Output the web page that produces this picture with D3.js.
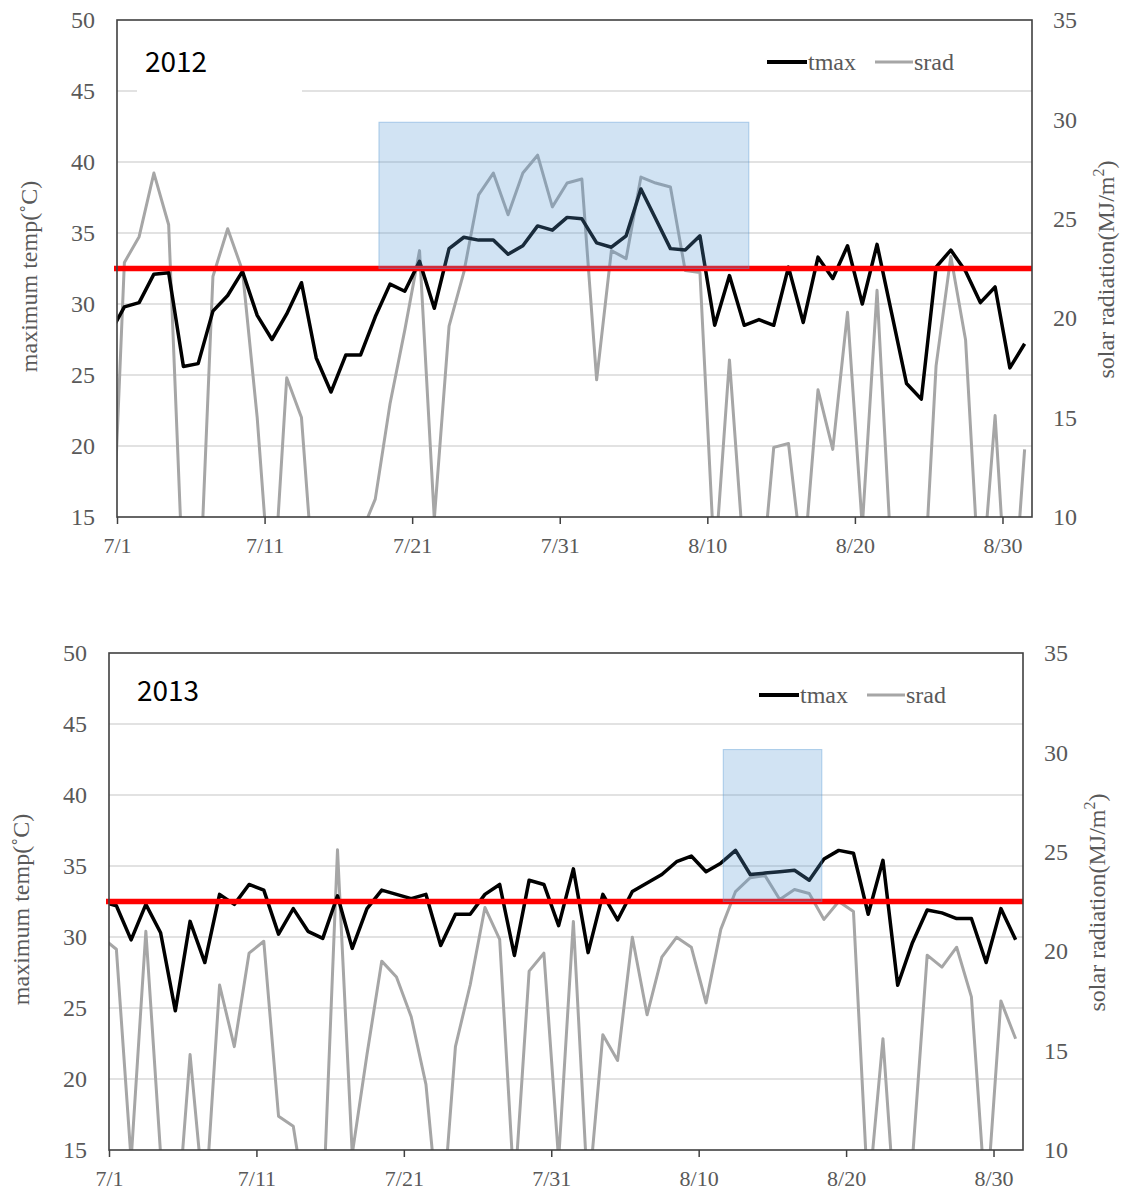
<!DOCTYPE html>
<html>
<head>
<meta charset="utf-8">
<script src="https://cdn.jsdelivr.net/npm/d3@7"></script>
<style>
  body { margin: 0; background: #fff; }
  svg { display: block; }
</style>
</head>
<body>
<svg id="chart" width="1125" height="1192"></svg>
<script>
const X_TICK_LABELS = ['7/1', '7/11', '7/21', '7/31', '8/10', '8/20', '8/30'];
const TEMP_TICKS = [15, 20, 25, 30, 35, 40, 45, 50];
const SRAD_TICKS = [10, 15, 20, 25, 30, 35];
const THRESHOLD = 32.5;
const SERIES_NAMES = ['tmax', 'srad'];

// daily values, 6/30 .. 8/31
const TMAX_2012 = [
  27.9,
  29.8, 30.1, 32.1, 32.2, 25.6, 25.8, 29.5, 30.6, 32.3, 29.2,
  27.5, 29.3, 31.5, 26.2, 23.8, 26.4, 26.4, 29.1, 31.4, 30.9,
  33.0, 29.7, 33.9, 34.7, 34.5, 34.5, 33.5, 34.1, 35.5, 35.2,
  36.1, 36.0, 34.3, 34.0, 34.8, 38.1, 36.0, 33.9, 33.8, 34.8,
  28.5, 32.0, 28.5, 28.9, 28.5, 32.6, 28.7, 33.3, 31.8, 34.1,
  30.0, 34.2, 29.3, 24.4, 23.3, 32.6, 33.8, 32.3, 30.1, 31.2,
  25.5, 27.2,
];
const SRAD_2012 = [
  5.0,
  22.8, 24.1, 27.3, 24.7, 6.2, 4.3, 22.1, 24.5, 22.4, 15.0,
  5.0, 17.0, 15.0, 5.0, 3.0, 3.0, 9.1, 10.9, 15.7, 19.4,
  23.4, 9.9, 19.6, 22.3, 26.2, 27.3, 25.2, 27.3, 28.2, 25.6,
  26.8, 27.0, 16.9, 23.4, 23.0, 27.1, 26.8, 26.6, 22.4, 22.3,
  7.5, 17.9, 7.7, 5.3, 13.5, 13.7, 7.3, 16.4, 13.4, 20.3,
  9.5, 21.4, 7.5, 4.0, 4.0, 17.6, 23.1, 18.9, 5.7, 15.1,
  3.0, 13.4,
];
const TMAX_2013 = [
  32.5,
  32.2, 29.8, 32.3, 30.3, 24.8, 31.1, 28.2, 33.0, 32.3, 33.7,
  33.3, 30.2, 32.0, 30.4, 29.9, 32.9, 29.2, 32.0, 33.3, 33.0,
  32.7, 33.0, 29.4, 31.6, 31.6, 33.0, 33.7, 28.7, 34.0, 33.7,
  30.8, 34.8, 28.9, 33.0, 31.2, 33.2, 33.8, 34.4, 35.3, 35.7,
  34.6, 35.2, 36.1, 34.4, 34.5, 34.6, 34.7, 34.0, 35.5, 36.1,
  35.9, 31.6, 35.4, 26.6, 29.6, 31.9, 31.7, 31.3, 31.3, 28.2,
  32.0, 29.8,
];
const SRAD_2013 = [
  20.7,
  20.1, 9.5, 21.0, 9.8, 5.2, 14.8, 6.9, 18.3, 15.2, 19.9,
  20.5, 11.7, 11.2, 6.5, 6.7, 25.1, 9.8, 14.8, 19.5, 18.7,
  16.7, 13.3, 5.5, 15.2, 18.3, 22.2, 20.6, 7.8, 19.0, 19.9,
  9.5, 21.5, 7.5, 15.8, 14.5, 20.7, 16.8, 19.7, 20.7, 20.2,
  17.4, 21.1, 23.0, 23.7, 23.8, 22.6, 23.1, 22.9, 21.6, 22.5,
  22.0, 7.5, 15.6, 5.0, 9.5, 19.8, 19.2, 20.2, 17.7, 7.0,
  17.5, 15.6,
];

// shaded hot spell boxes
const HOT_START = ['2012-07-18T18:00Z', '2013-08-11T16:00Z'];
const HOT_END = ['2012-08-12T19:30Z', '2013-08-18T08:30Z'];
const HOT_TOP = [42.8, 43.2];

const PANELS = [
  { year: 2012, tmax: TMAX_2012, srad: SRAD_2012, left: 117, right: 1032, top: 20, bottom: 517, mask: true, labelDy: 40 },
  { year: 2013, tmax: TMAX_2013, srad: SRAD_2013, left: 109, right: 1023, top: 653, bottom: 1150, mask: false, labelDy: 36 },
];

const FONT_SERIF = '"Liberation Serif", "Times New Roman", serif';
const FONT_SANS = '"Noto Sans CJK KR", "Noto Sans", sans-serif';
const TEXT_GREY = '#595959';

const svg = d3.select('#chart');

function seriesData(year, values) {
  const days = d3.utcDay.range(new Date(Date.UTC(year, 5, 30)), new Date(Date.UTC(year, 8, 1)));
  return days.map((day, i) => ({ date: d3.utcHour.offset(day, 12), value: values[i] }));
}

function drawGrid(g, yT, p) {
  g.append('g')
    .selectAll('line')
    .data(TEMP_TICKS.filter((t) => t > 15 && t < 50))
    .join('line')
    .attr('x1', p.left)
    .attr('x2', p.right)
    .attr('y1', (d) => yT(d))
    .attr('y2', (d) => yT(d))
    .attr('stroke', '#d9d9d9')
    .attr('stroke-width', 1.5);
}

function drawAxes(g, x, yT, yS, p) {
  const parseTick = d3.utcParse('%Y/%m/%d');
  const tickDates = X_TICK_LABELS.map((label) => parseTick(`${p.year}/${label}`));

  const xAxis = g.append('g')
    .attr('transform', `translate(0,${p.bottom})`)
    .call(d3.axisBottom(x)
      .tickValues(tickDates)
      .tickFormat((d, i) => X_TICK_LABELS[i])
      .tickSize(7)
      .tickPadding(13));
  const leftAxis = g.append('g')
    .attr('transform', `translate(${p.left},0)`)
    .call(d3.axisLeft(yT).tickValues(TEMP_TICKS).tickSize(0).tickPadding(22));
  const rightAxis = g.append('g')
    .attr('transform', `translate(${p.right},0)`)
    .call(d3.axisRight(yS).tickValues(SRAD_TICKS).tickSize(0).tickPadding(21));

  [xAxis, leftAxis, rightAxis].forEach((axis) => {
    axis.select('.domain').remove();
    axis.selectAll('text')
      .attr('font-family', FONT_SERIF)
      .attr('font-size', 24)
      .attr('fill', TEXT_GREY);
  });
  xAxis.selectAll('text').attr('font-size', 22);
  xAxis.selectAll('.tick line')
    .attr('stroke', '#404040')
    .attr('stroke-width', 1.5);

  g.append('rect')
    .attr('x', p.left)
    .attr('y', p.top)
    .attr('width', p.right - p.left)
    .attr('height', p.bottom - p.top)
    .attr('fill', 'none')
    .attr('stroke', '#404040')
    .attr('stroke-width', 1.6);

  const midY = (p.top + p.bottom) / 2;
  g.append('text')
    .attr('transform', `translate(${p.left - 88},${midY + 8}) rotate(-90)`)
    .attr('text-anchor', 'middle')
    .attr('dominant-baseline', 'central')
    .attr('font-family', FONT_SERIF)
    .attr('font-size', 24)
    .attr('fill', TEXT_GREY)
    .text('maximum temp(˚C)');

  const rightTitle = g.append('text')
    .attr('transform', `translate(${p.right + 74},${midY + 1}) rotate(-90)`)
    .attr('text-anchor', 'middle')
    .attr('dominant-baseline', 'central')
    .attr('font-family', FONT_SERIF)
    .attr('font-size', 24)
    .attr('fill', TEXT_GREY);
  rightTitle.append('tspan').text('solar radiation(MJ/m');
  rightTitle.append('tspan').attr('font-size', 16).attr('dy', -8).text('2');
  rightTitle.append('tspan').attr('dy', 8).text(')');
}

function drawLegend(g, p) {
  const y = p.top + 42;
  const items = [
    { name: SERIES_NAMES[0], colour: '#000000', width: 4, x: 650, len: 40 },
    { name: SERIES_NAMES[1], colour: '#a6a6a6', width: 3, x: 758, len: 38 },
  ];
  items.forEach((item) => {
    g.append('line')
      .attr('x1', p.left + item.x)
      .attr('x2', p.left + item.x + item.len)
      .attr('y1', y)
      .attr('y2', y)
      .attr('stroke', item.colour)
      .attr('stroke-width', item.width);
    g.append('text')
      .attr('x', p.left + item.x + item.len + 1)
      .attr('y', y)
      .attr('dominant-baseline', 'central')
      .attr('font-family', FONT_SERIF)
      .attr('font-size', 24)
      .attr('fill', TEXT_GREY)
      .text(item.name);
  });
}

function drawPanel(p, idx) {
  const g = svg.append('g').attr('class', `panel-${p.year}`);
  const x = d3.scaleUtc()
    .domain([new Date(Date.UTC(p.year, 6, 1)), new Date(Date.UTC(p.year, 8, 1))])
    .range([p.left, p.right]);
  const yT = d3.scaleLinear().domain([15, 50]).range([p.bottom, p.top]);
  const yS = d3.scaleLinear().domain([10, 35]).range([p.bottom, p.top]);

  const clipId = `clip-${p.year}`;
  g.append('clipPath')
    .attr('id', clipId)
    .append('rect')
    .attr('x', p.left)
    .attr('y', p.top)
    .attr('width', p.right - p.left)
    .attr('height', p.bottom - p.top);

  drawGrid(g, yT, p);

  if (p.mask) {
    g.append('rect')
      .attr('x', p.left + 20)
      .attr('y', p.top + 18)
      .attr('width', 165)
      .attr('height', 58)
      .attr('fill', '#ffffff');
  }

  const plot = g.append('g').attr('clip-path', `url(#${clipId})`);
  const sradLine = d3.line().x((d) => x(d.date)).y((d) => yS(d.value));
  const tmaxLine = d3.line().x((d) => x(d.date)).y((d) => yT(d.value));

  plot.append('path')
    .datum(seriesData(p.year, p.srad))
    .attr('d', sradLine)
    .attr('fill', 'none')
    .attr('stroke', '#a6a6a6')
    .attr('stroke-width', 3)
    .attr('stroke-linejoin', 'round');
  plot.append('path')
    .datum(seriesData(p.year, p.tmax))
    .attr('d', tmaxLine)
    .attr('fill', 'none')
    .attr('stroke', '#000000')
    .attr('stroke-width', 3.5)
    .attr('stroke-linejoin', 'round');

  g.append('line')
    .attr('x1', p.left - 3)
    .attr('x2', p.right)
    .attr('y1', yT(THRESHOLD))
    .attr('y2', yT(THRESHOLD))
    .attr('stroke', '#ff0000')
    .attr('stroke-width', 5.5);

  const hotStart = new Date(HOT_START[idx]);
  const hotEnd = new Date(HOT_END[idx]);
  g.append('rect')
    .attr('x', x(hotStart))
    .attr('y', yT(HOT_TOP[idx]))
    .attr('width', x(hotEnd) - x(hotStart))
    .attr('height', yT(THRESHOLD) - yT(HOT_TOP[idx]))
    .attr('fill', 'rgba(91,155,213,0.28)')
    .attr('stroke', 'rgba(91,155,213,0.45)')
    .attr('stroke-width', 1);

  drawAxes(g, x, yT, yS, p);
  drawLegend(g, p);

  g.append('text')
    .attr('x', p.left + 28)
    .attr('y', p.top + p.labelDy)
    .attr('dominant-baseline', 'central')
    .attr('font-family', FONT_SANS)
    .attr('font-size', 28)
    .attr('fill', '#000000')
    .text(p.year);
}

PANELS.forEach(drawPanel);
</script>
</body>
</html>
